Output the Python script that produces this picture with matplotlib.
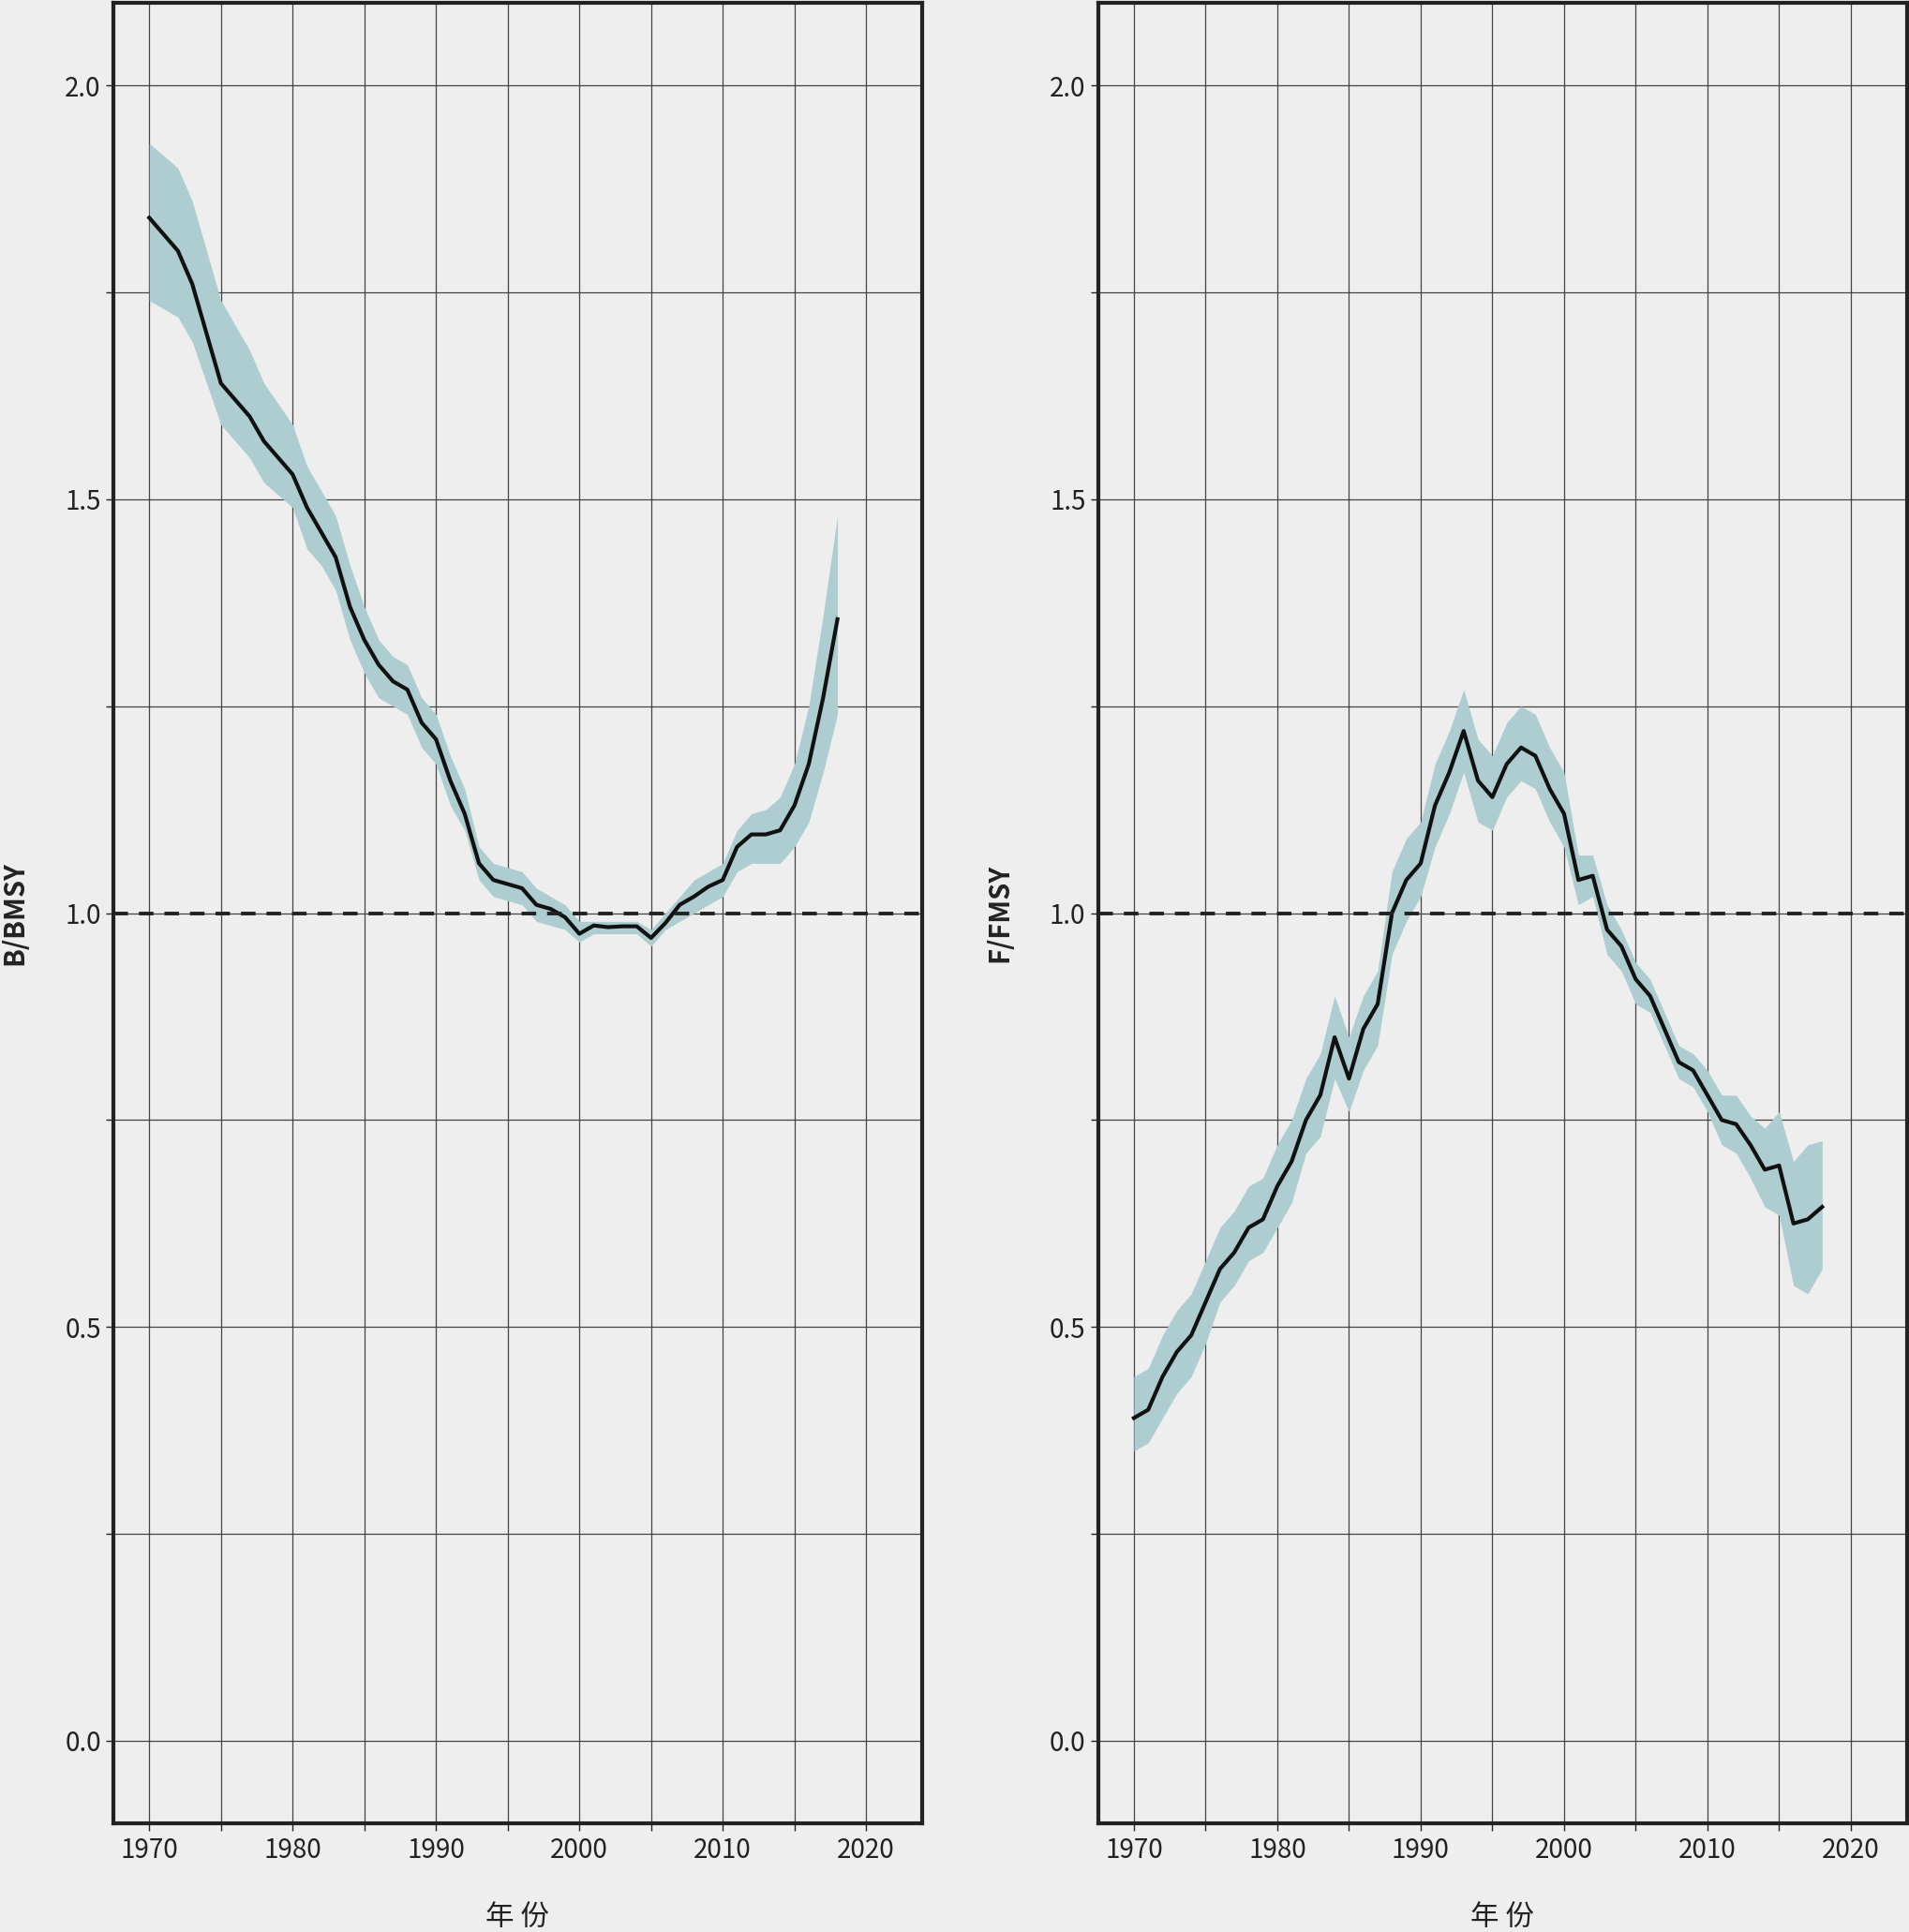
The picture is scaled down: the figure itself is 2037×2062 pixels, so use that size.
import matplotlib
matplotlib.use("Agg")
import matplotlib.pyplot as plt
import numpy as np

years = list(range(1970, 2019))
b_mid = [1.84,1.82,1.80,1.76,1.70,1.64,1.62,1.60,1.57,1.55,1.53,1.49,1.46,1.43,1.37,1.33,1.30,1.28,1.27,1.23,
         1.21,1.16,1.12,1.06,1.04,1.035,1.03,1.01,1.005,0.995,0.975,0.985,0.983,0.984,0.984,0.97,0.988,1.01,1.02,1.032,
         1.04,1.08,1.095,1.095,1.10,1.13,1.18,1.26,1.355]
b_up = [1.93,1.915,1.90,1.86,1.80,1.74,1.71,1.68,1.64,1.615,1.59,1.54,1.51,1.48,1.42,1.37,1.33,1.31,1.30,1.26,
        1.24,1.19,1.15,1.08,1.06,1.055,1.05,1.03,1.02,1.01,0.99,0.99,0.99,0.99,0.99,0.98,1.00,1.02,1.04,1.05,
        1.06,1.10,1.12,1.125,1.14,1.18,1.25,1.36,1.48]
b_lo = [1.74,1.73,1.72,1.69,1.64,1.59,1.57,1.55,1.52,1.505,1.49,1.44,1.42,1.39,1.33,1.29,1.26,1.25,1.24,1.20,
        1.18,1.13,1.10,1.04,1.02,1.015,1.01,0.99,0.985,0.98,0.965,0.975,0.975,0.975,0.975,0.96,0.98,0.99,1.00,1.01,
        1.02,1.05,1.06,1.06,1.06,1.08,1.11,1.17,1.24]
f_mid = [0.39,0.40,0.44,0.47,0.49,0.53,0.57,0.59,0.62,0.63,0.67,0.70,0.75,0.78,0.85,0.80,0.86,0.89,1.00,1.04,
         1.06,1.13,1.17,1.22,1.16,1.14,1.18,1.20,1.19,1.15,1.12,1.04,1.045,0.98,0.96,0.92,0.90,0.86,0.82,0.81,
         0.78,0.75,0.745,0.72,0.69,0.695,0.625,0.63,0.645]
f_up = [0.44,0.45,0.49,0.52,0.54,0.58,0.62,0.64,0.67,0.68,0.72,0.75,0.80,0.83,0.90,0.85,0.90,0.93,1.05,1.09,
        1.11,1.18,1.22,1.27,1.21,1.19,1.23,1.25,1.24,1.20,1.17,1.07,1.07,1.01,0.98,0.94,0.92,0.88,0.84,0.83,
        0.81,0.78,0.78,0.755,0.74,0.76,0.70,0.72,0.725]
f_lo = [0.35,0.36,0.39,0.42,0.44,0.48,0.53,0.55,0.58,0.59,0.62,0.65,0.71,0.73,0.80,0.76,0.81,0.84,0.95,0.99,
        1.02,1.08,1.12,1.17,1.11,1.10,1.14,1.16,1.15,1.11,1.08,1.01,1.02,0.95,0.93,0.89,0.88,0.84,0.80,0.79,
        0.76,0.72,0.71,0.68,0.645,0.635,0.55,0.54,0.57]
ylabels = ["B/BMSY", "F/FMSY"]
xlabel = "年 份"

fam = ["Liberation Sans Narrow", "Noto Sans CJK SC", "DejaVu Sans"]
plt.rcParams['font.family'] = fam
bg = "#eeeeee"
fig = plt.figure(figsize=(20.37, 20.62), dpi=100, facecolor=bg)
rects = [[0.0594, 0.0561, 0.4236, 0.9426], [0.5752, 0.0561, 0.4236, 0.9426]]
for rect, mid, up, lo, yl in zip(rects, [b_mid, f_mid], [b_up, f_up], [b_lo, f_lo], ylabels):
    ax = fig.add_axes(rect, facecolor=bg)
    ax.fill_between(years, lo, up, color="#aecdd1", lw=0, zorder=2)
    ax.plot(years, mid, color="#111111", lw=3, zorder=3)
    ax.axhline(1.0, color="#222222", lw=2.8, ls=(0, (4, 3)), zorder=4)
    ax.set_xlim(1967.5, 2023.9)
    ax.set_ylim(-0.1, 2.1)
    ax.set_xticks(np.arange(1970, 2021, 5), minor=False)
    ax.set_xticklabels([str(y) if y % 10 == 0 else "" for y in range(1970, 2021, 5)])
    ax.set_yticks(np.arange(0, 2.01, 0.25))
    ax.set_yticklabels([f"{v:.1f}" if abs(v * 2 - round(v * 2)) < 1e-9 else "" for v in np.arange(0, 2.01, 0.25)])
    ax.grid(True, color="#444444", lw=0.9, zorder=1)
    ax.tick_params(labelsize=20, colors="#222222", length=6, width=1)
    for s in ax.spines.values():
        s.set_linewidth(3)
        s.set_color("#222222")
    ax.set_ylabel(yl, fontsize=21, fontweight="bold", color="#222222", labelpad=28)
    ax.set_xlabel(xlabel, fontsize=22, color="#222222", labelpad=30)
fig.savefig("out.png", dpi=100, facecolor=bg)
